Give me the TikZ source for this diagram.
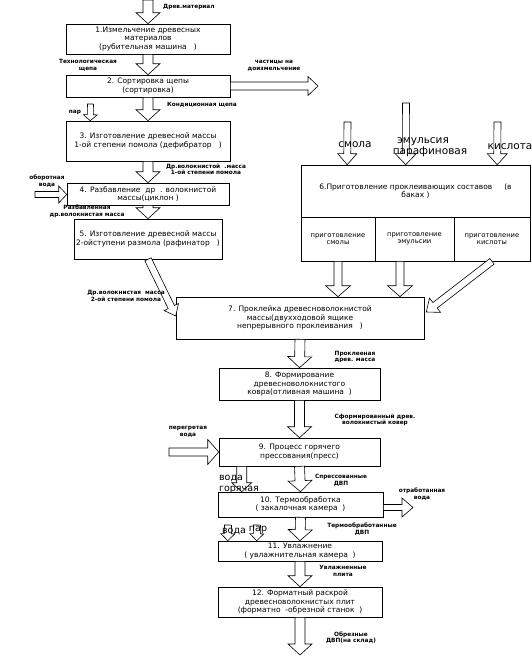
\documentclass[tikz,border=0pt]{standalone}
\usepackage{fontspec}
\setmainfont{DejaVu Sans}
\usetikzlibrary{calc}
\newcommand\bxfont{\fontsize{7.5}{8.6}\selectfont}
\newcommand\cellfont{\fontsize{6.8}{7.4}\selectfont}
\newcommand\lbfont{\fontsize{5.8}{6.6}\selectfont\bfseries}
\newcommand\bgfont{\fontsize{10.5}{10}\selectfont}
\newcommand\harr[5]{%
  \draw[arrline] let \p1=#1, \p2=#2, \n1={atan2(\y2-\y1,\x2-\x1)}, \n2={veclen(\x2-\x1,\y2-\y1)} in
  (\p1) ++(\n1+90:#3) -- ++(\n1:\n2-#5) -- ++(\n1+90:#4-#3) -- (\p2)
  -- ($(\p2)+(\n1+180:#5)+(\n1-90:#4)$) -- ++(\n1+90:#4-#3) -- ($(\p1)+(\n1-90:#3)$) -- cycle;}
\newcommand\marr[2]{\harr{#1}{#2}{5pt}{12pt}{11pt}}
\begin{document}
\begin{tikzpicture}[x=1pt,y=-1pt,
  arrline/.style={draw=black, fill=white, line width=0.6pt, line join=miter},
  box/.style={draw, line width=0.6pt, fill=white, align=center, inner sep=0pt, font=\bxfont},
  cell/.style={draw, line width=0.6pt, fill=white, align=center, inner sep=0pt, font=\cellfont, minimum height=44pt},
  lbl/.style={align=center, inner sep=0pt, font=\lbfont},
  big/.style={inner sep=0pt, font=\bgfont}]
\useasboundingbox (0,0) rectangle (531,657);
\fill[white] (0,0) rectangle (531,657);

% boxes
\node[box, minimum width=164pt, minimum height=30pt] (b1) at (148,39) {1.Измельчение древесных\\материалов\\(рубительная машина\ \ \ )};
\node[box, minimum width=164pt, minimum height=22pt] (b2) at (148,86) {2. Сортировка щепы\\(сортировка)};
\node[box, minimum width=164pt, minimum height=40pt] (b3) at (148,141) {3. Изготовление древесной массы\\1-ой степени помола (дефибратор\ \ \ )};
\node[box, minimum width=162pt, minimum height=22pt] (b4) at (148,194) {4. Разбавление\ \ др\ \ . волокнистой\\массы(циклон )};
\node[box, minimum width=148pt, minimum height=40pt] (b5) at (148,239) {5. Изготовление древесной массы\\2-ойступени размола (рафинатор\ \ \ )};
\node[box, minimum width=229pt, minimum height=52pt] (b6) at (415.5,191) {6.Приготовление проклеивающих составов\ \ \ \ \ (в\\баках )};
\node[cell, minimum width=74pt] (c6a) at (338,239) {приготовление\\смолы};
\node[cell, minimum width=79pt] (c6b) at (414.5,239) {приготовление\\эмульсии};
\node[cell, minimum width=76pt] (c6c) at (492,239) {приготовление\\кислоты};
\node[box, minimum width=248pt, minimum height=42pt] (b7) at (300,318) {7. Проклейка древесноволокнистой\\массы(двухходовой ящике\\непрерывного проклеивания\ \ \ )};
\node[box, minimum width=161pt, minimum height=32pt] (b8) at (299.5,384) {8. Формирование\\древесноволокнистого\\ковра(отливная машина\ \ )};
\node[box, minimum width=161pt, minimum height=28pt] (b9) at (299.5,452) {9. Процесс горячего\\прессования(пресс)};
\node[box, minimum width=165pt, minimum height=25pt] (b10) at (300.5,504.5) {10. Термообработка\\( закалочная камера\ \ )};
\node[box, minimum width=164pt, minimum height=20pt] (b11) at (300,551) {11. Увлажнение\\( увлажнительная камера\ \ )};
\node[box, minimum width=164pt, minimum height=30pt] (b12) at (300,602) {12. Форматный раскрой\\древесноволокнистых плит\\(форматно\ \ -обрезной станок\ \ )};

% free ends
\coordinate (in0) at (148,0);
\coordinate (par3) at (90.5,104);
\coordinate (obv) at (35,194.5);
\coordinate (dozm) at (318,86);
\coordinate (ismola) at (347.5,122);
\coordinate (iemul) at (406,103);
\coordinate (ikisl) at (497.5,122);
\coordinate (pergv) at (169,452);
\coordinate (otrv) at (413,507.5);
\coordinate (voda11) at (228,525);
\coordinate (par11) at (257,525);
\coordinate (out12) at (300,655);

% arrows
\marr{(in0)}{(b1.north)}
\marr{(b1.south)}{(b2.north)}
\marr{(b2.south)}{(b3.north)}
\marr{(b3.south)}{(b4.north)}
\marr{(b4.south)}{(b5.north)}
\marr{(b7.south)}{(b8.north)}
\marr{(b8.south)}{(b9.north)}
\marr{(b9.south)}{(b10.north)}
\marr{(b10.south)}{(b11.north)}
\marr{(b11.south)}{(b12.north)}
\marr{(b12.south)}{(out12)}
\harr{(b2.east)}{(dozm)}{4pt}{9.5pt}{10pt}
\harr{(par3)}{($(b3.north west)+(24.5,0)$)}{3pt}{7pt}{6pt}
\harr{(obv)}{($(b4.west)+(0,0.5)$)}{3pt}{8.5pt}{8pt}
\harr{(b5.south)}{($(b7.west)+(0,-2)$)}{3.5pt}{8pt}{10pt}
\harr{(ismola)}{($(b6.north west)+(46.5,0)$)}{3.5pt}{9.5pt}{11pt}
\harr{(iemul)}{($(b6.north west)+(105,0)$)}{3.5pt}{10.5pt}{11pt}
\harr{(ikisl)}{($(b6.north west)+(196.5,0)$)}{3.5pt}{10pt}{11pt}
\harr{(c6a.south)}{($(b7.north)+(38,0)$)}{4pt}{12.5pt}{11pt}
\harr{($(c6b.south)+(-14.5,0)$)}{($(b7.north)+(100,0)$)}{4pt}{12.5pt}{11pt}
\harr{(c6c.south)}{($(b7.east)+(2,-6)$)}{3.5pt}{9pt}{11pt}
\harr{(pergv)}{(b9.west)}{4pt}{12.5pt}{11pt}
\harr{($(b10.east)+(0,3)$)}{(otrv)}{3pt}{9.5pt}{11pt}
\harr{($(b9.south west)+(23,0)$)}{($(b10.north west)+(24,0)$)}{5pt}{10pt}{9pt}
\harr{(voda11)}{($(b11.north west)+(10,0)$)}{3.5pt}{7pt}{7pt}
\harr{(par11)}{($(b11.north west)+(39,0)$)}{3.5pt}{7pt}{7pt}

% labels
\node[lbl, anchor=west] (l1) at (163,7) {Древ.материал};
\node[lbl] (l2) at (88,65.5) {Технологическая\\щепа};
\node[lbl] (l3) at (274,66) {частицы на\\доизмельчение};
\node[lbl] (l4) at (202,105) {Кондиционная щепа};
\node[lbl] (l5) at (75,112) {пар};
\node[lbl] (l6) at (206,169.5) {Др.волокнистой\ \ .масса\\1-ой степени помола};
\node[lbl] (l7) at (47,181) {оборотная\\вода};
\node[lbl] (l8) at (87,211.5) {Разбавленная\\др.волокнистая масса};
\node[lbl] (l9) at (126,296) {Др.волокнистая\ \ масса\\2-ой степени помола};
\node[lbl] (l10) at (355,357) {Проклееная\\древ. масса};
\node[lbl] (l11) at (375,420) {Сформированный древ.\\волокнистый ковер};
\node[lbl] (l12) at (188,432) {перегретая\\вода};
\node[lbl] (l13) at (341,480) {Спрессованные\\ДВП};
\node[lbl] (l14) at (422,494) {отработанная\\вода};
\node[lbl] (l15) at (362,529) {Термообработанные\\ДВП};
\node[lbl] (l16) at (343,571) {Увлажненные\\плита};
\node[lbl] (l17) at (351,637.5) {Обрезные\\ДВП(на склад)};

\node[big] (s1) at (355,145) {смола};
\node[big] (s2) at (423,142) {эмульсия};
\node[big] (s3) at (430,152) {парафиновая};
\node[big] (s4) at (510,147) {кислота};
\node[big, font=\fontsize{9.5}{9}\selectfont] (s5) at (231,478.5) {вода};
\node[big, font=\fontsize{9.5}{9}\selectfont] (s6) at (239,489.5) {горячая};
\node[big, font=\fontsize{9.5}{9}\selectfont] (s7) at (234,531) {вода};
\node[big, font=\fontsize{9.5}{9}\selectfont] (s8) at (258,530) {пар};
\end{tikzpicture}
\end{document}
